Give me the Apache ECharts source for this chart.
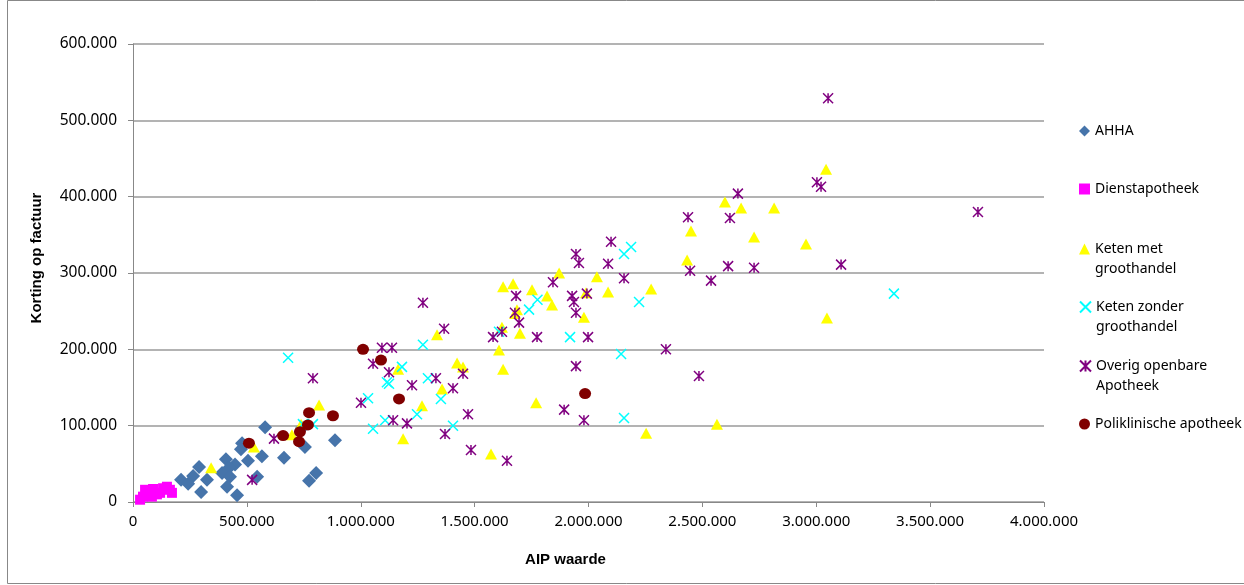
<!DOCTYPE html>
<html>
<head>
<meta charset="utf-8">
<script src="https://cdn.jsdelivr.net/npm/echarts@6/dist/echarts.min.js"></script>
<style>
html,body{margin:0;padding:0;background:#fff;}
#chart{width:1244px;height:585px;}
</style>
</head>
<body>
<div id="chart"></div>
<script>
// ---- data ----
const seriesNames = ['AHHA', 'Dienstapotheek', 'Keten met\ngroothandel', 'Keten zonder\ngroothandel', 'Overig openbare\nApotheek', 'Poliklinische apotheek'];

const ahhaX = [580000,479000,474000,566000,663000,755000,887000,505000,408000,448000,422000,391000,426000,545000,413000,457000,804000,773000,290000,264000,211000,242000,325000,299000,742000];
const ahhaY = [98000,77000,69000,60000,58000,72000,81000,54000,56000,49000,45000,38000,33000,33000,20000,9000,38000,28000,46000,34000,29000,24000,29000,13000,97000];

const dienstX = [31000,53000,66000,83000,88000,105000,119000,132000,149000,162000,171000,44000];
const dienstY = [3000,16000,12000,7000,17000,10000,12000,18000,20000,16000,12000,7000];

const ketenMetX = [343000,531000,698000,738000,817000,1164000,1186000,1269000,1335000,1357000,1423000,1449000,1572000,1607000,1620000,1625000,1625000,1669000,1686000,1699000,1752000,1770000,1818000,1840000,1871000,1980000,1989000,2037000,2086000,2253000,2275000,2433000,2450000,2564000,2599000,2670000,2727000,2815000,2955000,3043000,3047000,1677000];
const ketenMetY = [45000,72000,88000,102000,127000,174000,83000,126000,219000,148000,182000,177000,63000,199000,229000,174000,282000,286000,252000,221000,278000,130000,270000,258000,300000,242000,274000,295000,275000,90000,279000,317000,355000,102000,393000,385000,347000,385000,338000,436000,241000,247000];

const ketenZonderX = [681000,746000,790000,1032000,1054000,1107000,1115000,1124000,1181000,1247000,1273000,1295000,1352000,1405000,1607000,1739000,1776000,1919000,2143000,2156000,2156000,2187000,2222000,3341000];
const ketenZonderY = [189000,102000,102000,136000,96000,107000,157000,155000,177000,115000,206000,162000,135000,100000,223000,252000,265000,216000,194000,110000,325000,334000,262000,273000];

const overigX = [523000,619000,790000,1001000,1054000,1093000,1137000,1124000,1225000,1273000,1330000,1366000,1142000,1203000,1370000,1405000,1449000,1471000,1484000,1581000,1620000,1642000,1677000,1682000,1695000,1774000,1844000,1928000,1936000,1945000,1945000,1958000,1945000,1893000,1980000,1998000,1993000,2086000,2099000,2156000,2340000,2437000,2446000,2485000,2538000,2613000,2621000,2656000,2727000,3003000,3021000,3052000,3109000,3710000];
const overigY = [29000,83000,162000,130000,181000,202000,202000,170000,153000,261000,162000,227000,107000,103000,89000,149000,168000,115000,68000,216000,223000,54000,248000,270000,235000,216000,288000,270000,262000,248000,325000,313000,178000,121000,107000,216000,273000,312000,341000,293000,200000,373000,303000,165000,290000,309000,372000,404000,307000,419000,413000,529000,311000,380000];

const polikX = [1010000,1089000,1168000,773000,878000,768000,733000,659000,729000,509000,1985000];
const polikY = [200000,186000,135000,117000,113000,101000,92000,87000,79000,77000,142000];

const xTicks = {min: 0, max: 4000000, interval: 500000};
const yTicks = {min: 0, max: 600000, interval: 100000};

// ---- build ----
function pairs(xs, ys){ return xs.map((x,i)=>[x, ys[i]]); }
function fmt(v){ return String(v).replace(/\B(?=(\d{3})+(?!\d))/g, '.'); }

const crossPath = 'path://M0,0L10,10M10,0L0,10';
const starPath = 'path://M0,0L10,10M10,0L0,10M5,0L5,10';

const chart = echarts.init(document.getElementById('chart'), null, {renderer:'canvas'});

const legendCenters = [131, 189, 249, 307, 366, 424];
const legends = seriesNames.map((n,i)=>{
  const twoLine = n.indexOf('\n') >= 0;
  return {
    data:[n],
    orient:'vertical',
    left:1079,
    top: twoLine ? legendCenters[i]-30 : legendCenters[i]-10,
    padding:0,
    itemWidth:11, itemHeight:11,
    selectedMode:false,
    formatter: twoLine ? (name => '\n' + name) : (name => name),
    textStyle:{fontFamily:'Noto Sans', fontSize:14, color:'#000', lineHeight:20}
  };
});

const option = {
  animation:false,
  backgroundColor:'#fff',
  textStyle:{fontFamily:'Noto Sans'},
  grid:{left:133, right:200, top:44, bottom:83},
  legend: legends,
  xAxis:{
    type:'value', min:xTicks.min, max:xTicks.max, interval:xTicks.interval,
    name:'AIP waarde', nameLocation:'middle', nameGap:50,
    nameTextStyle:{fontFamily:'Liberation Sans', fontWeight:'bold', fontSize:15, color:'#000', padding:[0,46,0,0]},
    axisLine:{show:true, lineStyle:{color:'#888', width:1}},
    axisTick:{show:true, length:5, lineStyle:{color:'#888'}},
    axisLabel:{formatter:fmt, fontFamily:'Noto Sans', fontSize:15, color:'#000', margin:12},
    splitLine:{show:false}
  },
  yAxis:{
    type:'value', min:yTicks.min, max:yTicks.max, interval:yTicks.interval,
    name:'Korting op factuur', nameLocation:'middle', nameGap:89, nameRotate:90,
    nameTextStyle:{fontFamily:'Liberation Sans', fontWeight:'bold', fontSize:15, color:'#000', padding:[0,0,0,30]},
    axisLine:{show:true, lineStyle:{color:'#888', width:1}},
    axisTick:{show:true, length:5, lineStyle:{color:'#888'}},
    axisLabel:{formatter:fmt, fontFamily:'Noto Sans', fontSize:15.5, color:'#000', margin:16},
    splitLine:{show:true, lineStyle:{color:'#9a9a9a', width:1.5}}
  },
  graphic:[{type:'rect', shape:{x:7.5, y:0.5, width:1300, height:583}, style:{fill:'none', stroke:'#888', lineWidth:1}, silent:true}],
  series:[
    {name:seriesNames[0], type:'scatter', data:pairs(ahhaX, ahhaY), symbol:'diamond', symbolSize:14, itemStyle:{color:'#4674AA', opacity:1}},
    {name:seriesNames[1], type:'scatter', data:pairs(dienstX, dienstY), symbol:'rect', symbolSize:10, itemStyle:{color:'#FF00FF', opacity:1}},
    {name:seriesNames[2], type:'scatter', data:pairs(ketenMetX, ketenMetY), symbol:'triangle', symbolSize:[12,11], itemStyle:{color:'#FFFF00', opacity:1}},
    {name:seriesNames[3], type:'scatter', data:pairs(ketenZonderX, ketenZonderY), symbol:crossPath, symbolSize:10, itemStyle:{color:'#00FFFF', borderColor:'#00FFFF', borderWidth:1.5, opacity:1}},
    {name:seriesNames[4], type:'scatter', data:pairs(overigX, overigY), symbol:starPath, symbolSize:10, itemStyle:{color:'#800080', borderColor:'#800080', borderWidth:1.5, opacity:1}},
    {name:seriesNames[5], type:'scatter', data:pairs(polikX, polikY), symbol:'circle', symbolSize:[12,11], itemStyle:{color:'#800000', opacity:1}}
  ]
};
chart.setOption(option);
</script>
</body>
</html>
